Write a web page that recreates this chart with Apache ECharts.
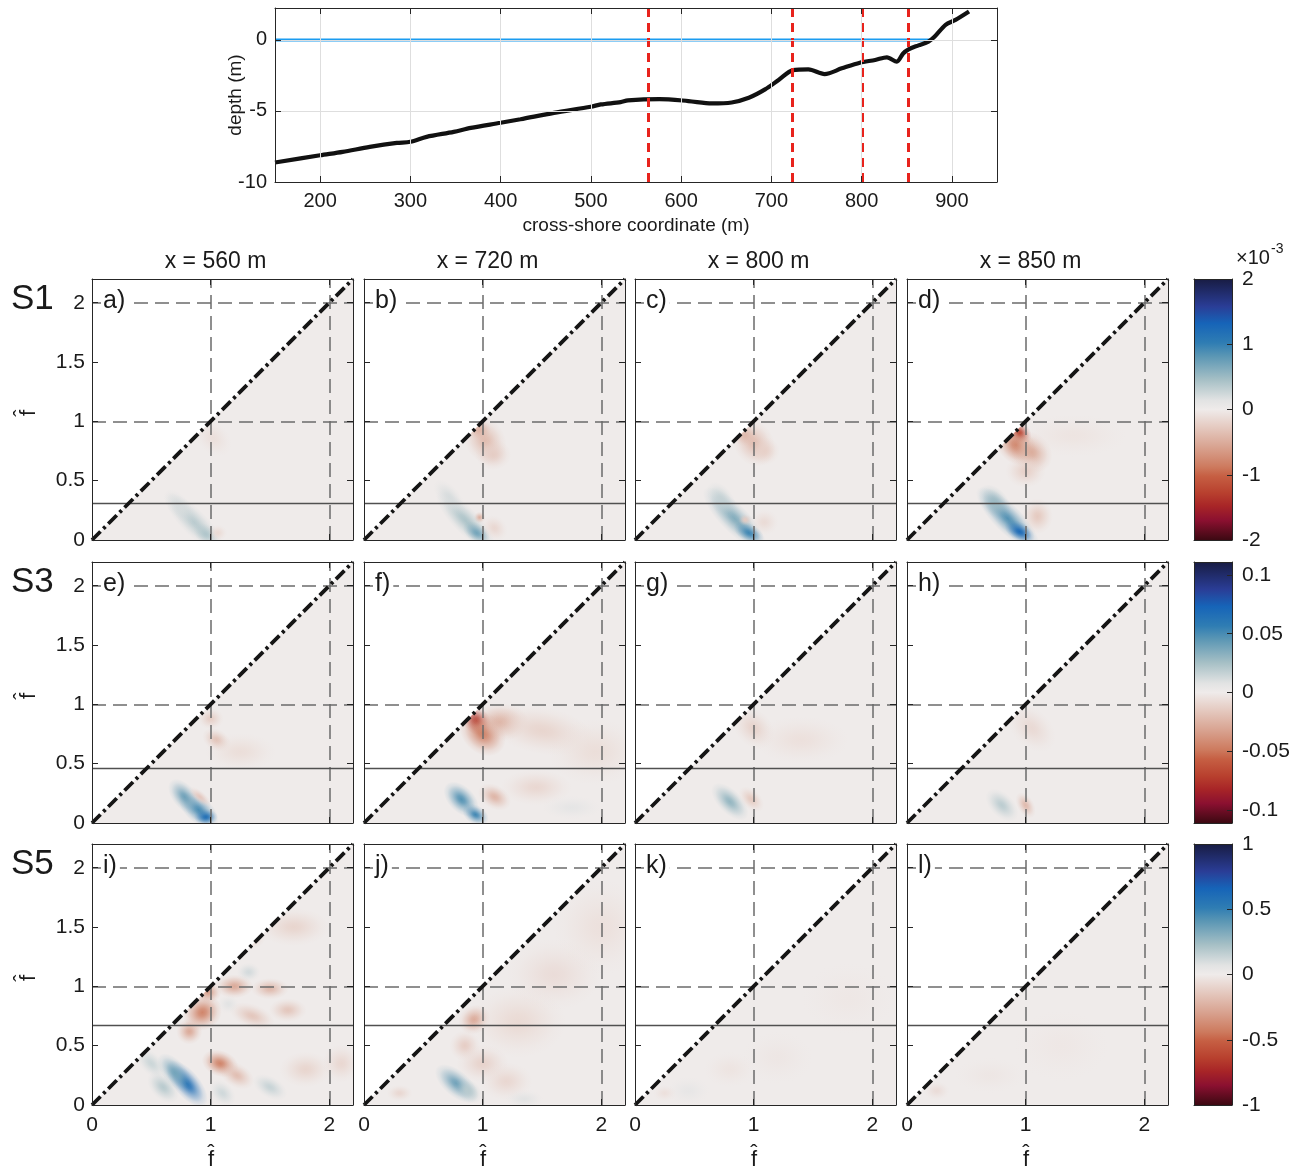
<!DOCTYPE html>
<html><head><meta charset="utf-8">
<script src="https://cdn.jsdelivr.net/npm/echarts@6/dist/echarts.min.js"></script>
<style>html,body{margin:0;padding:0;background:#fff}#c{width:1306px;height:1171px}</style>
</head><body><div id="c"></div>
<script>
const FONT = '"Liberation Sans", Arial, sans-serif';
// ---------- top panel data ----------
const profileX = [150,200,225,255,285,300,318,348,367,400,422,459,500,511,533,541,576,608,634,656,675,693,708,724,741,759,778,798,815,828,839,846,852,863,874,881,893,904,919];
const profileDepth = [-8.63,-8.12,-7.88,-7.53,-7.25,-7.17,-6.82,-6.47,-6.19,-5.83,-5.58,-5.13,-4.7,-4.54,-4.38,-4.25,-4.16,-4.3,-4.47,-4.4,-4.07,-3.48,-2.82,-2.12,-2.07,-2.4,-2.0,-1.6,-1.41,-1.22,-1.53,-0.95,-0.66,-0.38,-0.12,0.24,1.06,1.41,2.0];
const waterX = [150, 876];
const waterLevel = 0;
const sectionX = [564, 723, 801, 852];
const xTopRange = [150, 950];
const yTopRange = [-10, 2.25];
// ---------- bispectrum panels ----------
const columnTitles = ['x = 560 m', 'x = 720 m', 'x = 800 m', 'x = 850 m'];
const rowNames = ['S1', 'S3', 'S5'];
const panelLetters = [['a)','b)','c)','d)'],['e)','f)','g)','h)'],['i)','j)','k)','l)']];
const rowLimits = [2, 0.111, 1];
const cutoffs = [0.31, 0.46, 0.67];
const refFreqs = [1, 2];
const FMAX = 2.2;
// each blob: [f1, f2, value, spread1, spread2, orientationDeg]
const blobsA = [[0.86,0.15,0.35,0.34,0.11,-45],[0.74,0.28,0.2,0.18,0.09,-50],[0.96,0.05,0.4,0.12,0.08,-35],[1.06,0.06,-0.14,0.08,0.07,0],[1.02,0.86,-0.1,0.18,0.13,-45]];
const blobsB = [[1.02,0.84,-0.38,0.21,0.17,-60],[1.09,0.72,-0.25,0.15,0.13,0],[0.97,0.93,-0.45,0.1,0.09,0],[0.86,0.16,0.42,0.34,0.11,-45],[0.95,0.06,0.7,0.13,0.08,-35],[0.72,0.36,0.2,0.18,0.09,-50],[0.975,0.19,-0.45,0.05,0.05,0],[1.1,0.1,-0.16,0.12,0.1,-45]];
const blobsC = [[1.0,0.82,-0.36,0.21,0.17,-60],[0.93,0.88,-0.4,0.1,0.09,0],[1.09,0.75,-0.22,0.13,0.12,0],[0.84,0.18,0.62,0.36,0.12,-45],[0.96,0.06,0.95,0.14,0.08,-30],[0.73,0.34,0.3,0.17,0.1,-55],[0.93,0.17,-0.26,0.06,0.05,0],[1.09,0.15,-0.13,0.12,0.11,0]];
const blobsD = [[0.95,0.9,-1.3,0.11,0.09,-45],[0.92,0.8,-0.8,0.19,0.15,-45],[1.05,0.74,-0.5,0.19,0.16,-45],[1.0,0.58,-0.22,0.17,0.14,0],[1.4,0.88,-0.06,0.45,0.18,0],[0.85,0.18,0.85,0.36,0.12,-45],[0.95,0.07,1.25,0.14,0.08,-30],[0.74,0.32,0.5,0.17,0.11,-50],[1.1,0.2,-0.27,0.13,0.15,0]];
const blobsE = [[0.9,0.11,0.05,0.2,0.11,-40],[0.78,0.22,0.04,0.18,0.1,-50],[0.96,0.05,0.065,0.1,0.07,0],[0.91,0.22,-0.016,0.12,0.05,-40],[1.05,0.7,-0.018,0.13,0.09,-30],[1.0,0.88,-0.013,0.11,0.09,0],[1.25,0.6,-0.006,0.3,0.16,0]];
const blobsF = [[0.95,0.86,-0.078,0.13,0.11,-45],[1.0,0.76,-0.047,0.22,0.17,-45],[1.15,0.85,-0.025,0.24,0.16,0],[1.5,0.78,-0.01,0.45,0.2,-10],[1.95,0.6,-0.006,0.4,0.28,0],[0.82,0.2,0.047,0.18,0.11,-45],[0.94,0.07,0.052,0.12,0.08,-30],[1.1,0.22,-0.024,0.15,0.1,-30],[1.45,0.3,-0.009,0.3,0.15,0],[1.75,0.13,0.006,0.25,0.1,0]];
const blobsG = [[0.8,0.18,0.03,0.2,0.1,-45],[0.98,0.2,-0.015,0.13,0.08,-45],[1.0,0.8,-0.011,0.2,0.15,-45],[1.4,0.7,-0.005,0.4,0.2,0]];
const blobsH = [[0.8,0.15,0.019,0.17,0.1,-45],[1.0,0.15,-0.022,0.12,0.07,-60],[1.05,0.8,-0.008,0.24,0.16,-45]];
const blobsI = [[0.8,0.18,0.6,0.24,0.11,-50],[0.7,0.27,0.35,0.2,0.1,-50],[0.6,0.15,0.18,0.16,0.1,-45],[0.5,0.35,0.13,0.16,0.09,-45],[0.93,0.78,-0.4,0.15,0.17,-60],[0.98,0.95,-0.3,0.11,0.09,0],[0.82,0.62,-0.26,0.11,0.11,0],[1.08,0.35,-0.4,0.16,0.11,-20],[1.22,0.25,-0.18,0.16,0.1,-30],[1.2,1.0,-0.26,0.16,0.1,0],[1.5,0.98,-0.2,0.16,0.09,0],[1.35,0.75,-0.15,0.2,0.1,-20],[1.32,1.12,0.11,0.1,0.08,0],[1.15,0.85,0.07,0.09,0.08,0],[1.3,1.4,-0.15,0.16,0.09,0],[1.65,0.8,-0.15,0.16,0.1,0],[1.5,0.15,0.14,0.16,0.09,-30],[1.8,0.3,-0.09,0.22,0.15,0],[1.7,1.5,-0.09,0.3,0.16,0],[2.1,0.35,-0.08,0.16,0.16,0],[1.1,0.1,0.12,0.13,0.09,-45]];
const blobsJ = [[0.78,0.18,0.36,0.22,0.11,-40],[0.88,0.12,0.18,0.13,0.09,-40],[0.93,0.72,-0.26,0.12,0.14,-60],[0.85,0.5,-0.12,0.13,0.13,0],[1.0,0.35,-0.1,0.22,0.16,0],[1.3,0.7,-0.07,0.4,0.3,0],[1.2,0.2,-0.08,0.22,0.16,0],[1.6,1.1,-0.06,0.4,0.3,0],[0.3,0.1,-0.08,0.11,0.07,0],[1.35,0.05,0.07,0.16,0.08,0],[2.0,1.5,-0.045,0.4,0.4,0]];
const blobsK = [[0.45,0.12,0.045,0.18,0.12,0],[0.25,0.1,-0.045,0.1,0.07,0],[0.8,0.3,-0.028,0.22,0.15,0],[1.2,0.4,-0.02,0.3,0.22,0],[1.8,0.9,-0.016,0.4,0.3,0]];
const blobsL = [[0.25,0.12,-0.06,0.11,0.08,0],[0.7,0.25,-0.02,0.3,0.15,0],[1.3,0.5,-0.015,0.4,0.3,0]];
const panelBlobs = [[blobsA,blobsB,blobsC,blobsD],[blobsE,blobsF,blobsG,blobsH],[blobsI,blobsJ,blobsK,blobsL]];
// colormap (diverging, positive = blue)
const cmapT = [-1,-0.85,-0.74,-0.64,-0.51,-0.44,-0.28,-0.13,0,0.07,0.23,0.41,0.51,0.66,0.79,1];
const cmapHex = ['#3c0912','#8b1030','#a82527','#b8402e','#c65f43','#cd7a5e','#d9a593','#e5cbc2','#efebea','#e2e3e3','#a5bfc5','#5a96b4','#2f7db3','#1664b8','#2a3d96','#181c43'];

function hexRgb(h){return [parseInt(h.slice(1,3),16),parseInt(h.slice(3,5),16),parseInt(h.slice(5,7),16)];}
function cmap(t){
  t = Math.max(-1, Math.min(1, t));
  for (let i = 0; i < cmapT.length - 1; i++) {
    if (t <= cmapT[i+1]) {
      const a = hexRgb(cmapHex[i]), b = hexRgb(cmapHex[i+1]);
      const u = (t - cmapT[i]) / (cmapT[i+1] - cmapT[i]);
      return [0,1,2].map(k => Math.round(a[k] + (b[k]-a[k]) * u));
    }
  }
  return hexRgb(cmapHex[cmapHex.length-1]);
}
const rgba = (c, a) => 'rgba(' + c[0] + ',' + c[1] + ',' + c[2] + ',' + a + ')';

const chart = echarts.init(document.getElementById('c'), null, {renderer:'canvas', width:1306, height:1171});
const AX = '#262626';
const option = {animation:false, backgroundColor:'#fff', textStyle:{fontFamily:FONT}, grid:[], xAxis:[], yAxis:[], series:[], graphic:[]};

function axis(o){
  const base = {type:'value', z:10,
    axisLine:{show:true, onZero:false, lineStyle:{color:AX, width:1}},
    axisTick:{show:true, inside:true, length:6, lineStyle:{color:AX, width:1}},
    axisLabel:{show:false}, splitLine:{show:false}};
  return Object.assign(base, o);
}
function label(size, extra){ return Object.assign({show:true, fontSize:size, color:'#1a1a1a', fontFamily:FONT}, extra||{}); }
function txt(s, size, align){ return {text:s, fontSize:size, fontFamily:FONT, fill:'#1a1a1a', align:align||'center', verticalAlign:'middle', textAlign:align||'center', textVerticalAlign:'middle'}; }

// ---------- top panel ----------
option.grid.push({left:275, top:8, width:722, height:174});
option.xAxis.push(axis({gridIndex:0, position:'bottom', min:xTopRange[0], max:xTopRange[1], splitNumber:8, minInterval:100, maxInterval:100,
  axisLabel:label(20,{margin:9, showMinLabel:false, showMaxLabel:false}),
  splitLine:{show:true, lineStyle:{color:'#dedede', width:1}},
  name:'cross-shore coordinate (m)', nameLocation:'middle', nameGap:34, nameMoveOverlap:false, nameTextStyle:{fontSize:19, color:'#1a1a1a', fontFamily:FONT}}));
option.xAxis.push(axis({gridIndex:0, position:'top', min:xTopRange[0], max:xTopRange[1], splitNumber:8, minInterval:100, maxInterval:100}));
option.yAxis.push(axis({gridIndex:0, position:'left', min:yTopRange[0], max:yTopRange[1], interval:5,
  axisLabel:label(20,{margin:8, showMaxLabel:false}),
  splitLine:{show:true, lineStyle:{color:'#dedede', width:1}},
  name:'depth (m)', nameLocation:'middle', nameGap:30, nameMoveOverlap:false, nameRotate:90, nameTextStyle:{fontSize:19, color:'#1a1a1a', fontFamily:FONT}}));
option.yAxis.push(axis({gridIndex:0, position:'right', min:yTopRange[0], max:yTopRange[1], interval:5}));
option.series.push({type:'line', xAxisIndex:0, yAxisIndex:0, z:2, symbol:'none', silent:true,
  data: waterX.map(x => [x, waterLevel]), lineStyle:{color:'#1b9cf0', width:3}});
option.series.push({type:'line', xAxisIndex:0, yAxisIndex:0, z:3, symbol:'none', silent:true, smooth:0.3,
  data: profileX.map((x,i) => [x, profileDepth[i]]), lineStyle:{color:'#111', width:4.2},
  markLine:{silent:true, symbol:['none','none'], label:{show:false}, animation:false,
    lineStyle:{color:'#e8231c', width:3, type:[9,6]}, emphasis:{disabled:true},
    data: sectionX.map(x => ({xAxis:x}))}});

// ---------- bispectrum panels ----------
const panelLeft = [92, 364, 635, 907];
const panelTop = [279, 562, 844];
const PS = 261;

function blobRender(limit){
  return function(params, api){
    const p = api.coord([api.value(0), api.value(1)]);
    const s = api.size([api.value(3), api.value(4)]);
    const c = cmap(api.value(2) / limit);
    return {type:'circle', x:p[0], y:p[1], rotation: api.value(5) * Math.PI / 180,
      scaleX: s[0], scaleY: s[1], shape:{cx:0, cy:0, r:1},
      style:{fill:{type:'radial', x:0.5, y:0.5, r:0.5, colorStops:[
        {offset:0, color:rgba(c,1)},{offset:0.2, color:rgba(c,0.85)},
        {offset:0.5, color:rgba(c,0.45)},{offset:0.78, color:rgba(c,0.13)},{offset:1, color:rgba(c,0)}]}}};
  };
}
const coverRender = function(params, api){
  const a = api.coord([0,0]), b = api.coord([0,FMAX]), c = api.coord([FMAX,FMAX]);
  return {type:'polygon', shape:{points:[a,b,c]}, style:{fill:'#fff'}};
};
const dashStyle = {color:'#6b6b6b', width:1.5, type:[14,7]};
const diagStyle = {color:'#151515', width:3.8, type:[12,4,3,4]};

function fhat(x, y, rot){
  return {type:'group', x:x, y:y, rotation:rot, z:100, children:[
    {type:'text', x:0, y:0, style:txt('f', 22)},
    {type:'text', x:0, y:-6, style:txt('\u02c6', 22)}]};
}

for (let r = 0; r < 3; r++) {
  for (let c = 0; c < 4; c++) {
    const gi = option.grid.length;
    option.grid.push({left:panelLeft[c], top:panelTop[r], width:PS, height:PS, show:true, backgroundColor:cmapHex[8], borderWidth:0});
    const xi = option.xAxis.length, yi = option.yAxis.length;
    option.xAxis.push(axis({gridIndex:gi, position:'bottom', min:0, max:FMAX, interval:1,
      axisLabel: r === 2 ? label(21,{margin:10, showMaxLabel:false}) : {show:false}}));
    option.xAxis.push(axis({gridIndex:gi, position:'top', min:0, max:FMAX, interval:1}));
    option.yAxis.push(axis({gridIndex:gi, position:'left', min:0, max:FMAX, interval:0.5,
      axisLabel: c === 0 ? label(21,{margin:7, showMaxLabel:false}) : {show:false}}));
    option.yAxis.push(axis({gridIndex:gi, position:'right', min:0, max:FMAX, interval:0.5}));
    option.series.push({type:'custom', xAxisIndex:xi, yAxisIndex:yi, z:1, clip:true, silent:true,
      renderItem: blobRender(rowLimits[r]), data: panelBlobs[r][c]});
    option.series.push({type:'custom', xAxisIndex:xi, yAxisIndex:yi, z:2, silent:true,
      renderItem: coverRender, data:[[0,0]]});
    const ml = [];
    refFreqs.forEach(f => { ml.push({xAxis:f, lineStyle:dashStyle}); ml.push({yAxis:f, lineStyle:dashStyle}); });
    ml.push({yAxis:cutoffs[r], lineStyle:{color:'#505050', width:1.3, type:'solid'}});
    ml.push([{coord:[0,0], lineStyle:diagStyle},{coord:[FMAX,FMAX], lineStyle:diagStyle}]);
    option.series.push({type:'line', xAxisIndex:xi, yAxisIndex:yi, z:3, silent:true, symbol:'none',
      data:[[0,0]], lineStyle:{opacity:0},
      markLine:{silent:true, symbol:['none','none'], label:{show:false}, animation:false, emphasis:{disabled:true}, data:ml}});
    const ls = txt(panelLetters[r][c], 25, 'left');
    ls.backgroundColor = '#fff'; ls.padding = [1,3,1,2];
    option.graphic.push({type:'text', x:panelLeft[c] + 9, y:panelTop[r] + 22, z:100, style:ls});
  }
  option.graphic.push({type:'text', x:11, y:panelTop[r] + 20, z:100, style:txt(rowNames[r], 35, 'left')});
  option.graphic.push(fhat(29, panelTop[r] + 134, Math.PI/2));

  // colorbar
  const lim = rowLimits[r];
  const gi = option.grid.length;
  option.grid.push({left:1194, top:panelTop[r], width:38, height:PS});
  const xi = option.xAxis.length, yi = option.yAxis.length;
  option.xAxis.push(axis({gridIndex:gi, position:'bottom', min:0, max:1, axisTick:{show:false}}));
  option.xAxis.push(axis({gridIndex:gi, position:'top', min:0, max:1, axisTick:{show:false}}));
  option.yAxis.push(axis({gridIndex:gi, position:'left', min:-lim, max:lim, axisTick:{show:false}}));
  const rightY = {gridIndex:gi, position:'right', min:-lim, max:lim,
    axisTick:{show:true, inside:true, length:5, lineStyle:{color:AX}},
    axisLabel: label(21,{margin:10})};
  if (r === 0) rightY.interval = 1;
  else if (r === 2) rightY.interval = 0.5;
  else { rightY.axisLabel.showMinLabel = false; rightY.axisLabel.showMaxLabel = false; rightY.splitNumber = 5; }
  option.yAxis.push(axis(rightY));
  option.series.push({type:'custom', xAxisIndex:xi, yAxisIndex:yi + 1, z:1, silent:true, data:[[0, lim]],
    renderItem: function(params, api){
      const p0 = api.coord([0, lim]), p1 = api.coord([1, -lim]);
      const stops = [];
      for (let i = cmapT.length - 1; i >= 0; i--) stops.push({offset:(1 - cmapT[i]) / 2, color:cmapHex[i]});
      return {type:'rect', shape:{x:p0[0], y:p0[1], width:p1[0]-p0[0], height:p1[1]-p0[1]},
        style:{fill:{type:'linear', x:0, y:0, x2:0, y2:1, colorStops:stops}}};
    }});
}
columnTitles.forEach((t, c) => option.graphic.push({type:'text', x:panelLeft[c] + PS/2 - 7, y:262, z:100, style:txt(t, 23)}));
panelLeft.forEach(l => option.graphic.push(fhat(l + 119, 1160, 0)));
option.graphic.push({type:'text', x:1236, y:258, z:100, style:txt('\u00d710', 20, 'left')});
option.graphic.push({type:'text', x:1271, y:249, z:100, style:txt('-3', 14, 'left')});

chart.setOption(option);
</script></body></html>
